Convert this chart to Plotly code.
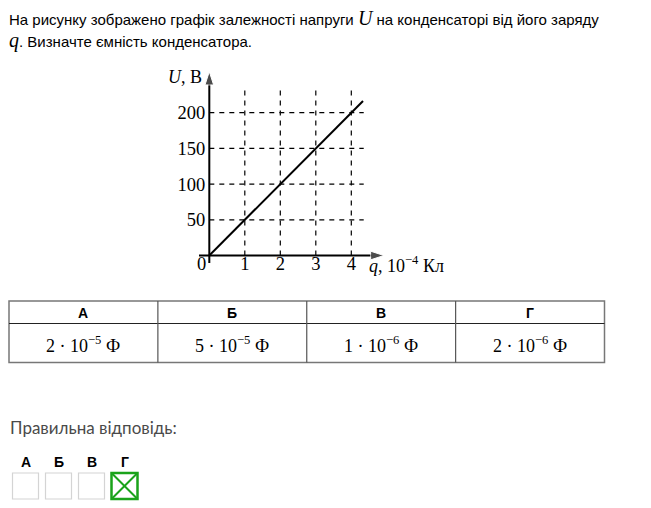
import plotly.graph_objects as go

# page body has an 8px margin, so the figure is drawn 8px in from the window edge
OFF = 8
W, H = 651 - OFF, 508 - OFF

# ---- data ----
q_line = [0, 4.33]          # charge, 10^-4 C
U_line = [0, 216.5]         # voltage, V
q_ticks = [1, 2, 3, 4]
U_ticks = [50, 100, 150, 200]
options = ["А", "Б", "В", "Г"]
answers = ["2 · 10<sup>−5</sup> Ф", "5 · 10<sup>−5</sup> Ф",
           "1 · 10<sup>−6</sup> Ф", "2 · 10<sup>−6</sup> Ф"]
correct = "Г"

def X(px):
    return (px - OFF) / W

def Y(py):
    return 1 - (py - OFF) / H

SERIF = "Liberation Serif, Times New Roman, serif"
SANS = "Liberation Sans, Arial, sans-serif"

# chart geometry (pixels)
x0_px, x_scale = 209.3, 35.5
y0_px, y_scale = 255.5, 0.714
x_rng, y_rng = [-0.35, 5.0], [-12, 262]
grid_q_end, grid_U_end = 4.35, 233
x_axis_span = [-0.29, 4.92]
y_axis_span = [-10.5, 257.5]

fig = go.Figure()

# dashed grid
gx, gy = [], []
for q in q_ticks:
    gx += [q, q, None]
    gy += [0, grid_U_end, None]
for u in U_ticks:
    gx += [0, grid_q_end, None]
    gy += [u, u, None]
fig.add_trace(go.Scatter(x=gx, y=gy, mode="lines",
                         line=dict(color="black", width=1.2, dash="5px,5px"),
                         showlegend=False, hoverinfo="skip"))

# axes with arrowheads
fig.add_trace(go.Scatter(
    x=x_axis_span, y=[0, 0], mode="lines+markers",
    line=dict(color="black", width=2),
    marker=dict(symbol=["circle", "arrow"], size=[0, 14], angleref="previous", color="black"),
    showlegend=False, hoverinfo="skip"))
fig.add_trace(go.Scatter(
    x=[0, 0], y=y_axis_span, mode="lines+markers",
    line=dict(color="black", width=2),
    marker=dict(symbol=["circle", "arrow"], size=[0, 14], angleref="previous", color="black"),
    showlegend=False, hoverinfo="skip"))

# U(q)
fig.add_trace(go.Scatter(
    x=q_line, y=U_line, mode="lines",
    line=dict(color="black", width=2),
    showlegend=False, hoverinfo="skip"))

fig.update_layout(
    width=W, height=H,
    margin=dict(l=0, r=0, t=0, b=0),
    paper_bgcolor="white", plot_bgcolor="white",
    showlegend=False,
    xaxis=dict(
        domain=[X(x0_px + x_rng[0] * x_scale), X(x0_px + x_rng[1] * x_scale)],
        range=x_rng, tickvals=q_ticks, ticktext=[str(v) for v in q_ticks],
        anchor="free", position=Y(y0_px),
        showgrid=False, zeroline=False, showline=False, ticks="",
        tickfont=dict(family=SERIF, size=18.5, color="black"),
        ticklabelstandoff=-5, fixedrange=True),
    yaxis=dict(
        domain=[Y(y0_px - y_rng[0] * y_scale), Y(y0_px - y_rng[1] * y_scale)],
        range=y_rng, tickvals=U_ticks, ticktext=[str(v) for v in U_ticks],
        anchor="free", position=X(x0_px),
        showgrid=False, zeroline=False, showline=False, ticks="",
        tickfont=dict(family=SERIF, size=18.5, color="black"),
        ticklabelstandoff=4, fixedrange=True),
)

ann = []
# origin label
ann.append(dict(x=0, y=0, xref="x", yref="y", text="0", showarrow=False,
                xanchor="right", yanchor="top", xshift=-1, yshift=4,
                font=dict(family=SERIF, size=18.5, color="black")))
# axis titles
ann.append(dict(x=X(204), y=Y(77), xref="paper", yref="paper",
                text="<i>U</i>, В", showarrow=False, xanchor="right", yanchor="middle",
                font=dict(family=SERIF, size=18, color="black")))
ann.append(dict(x=X(367), y=Y(264), xref="paper", yref="paper",
                text="<i>q</i>, 10<sup>−4</sup> Кл", showarrow=False, xanchor="left", yanchor="middle",
                font=dict(family=SERIF, size=18, color="black")))

# question text
ann.append(dict(x=X(7), y=Y(18), xref="paper", yref="paper", xanchor="left", yanchor="middle",
                text="На рисунку зображено графік залежності напруги "
                     "<span style='font-family:Liberation Serif;font-size:20px'><i>U</i></span>"
                     " на конденсаторі від його заряду",
                showarrow=False, font=dict(family=SANS, size=15, color="black")))
ann.append(dict(x=X(7), y=Y(40), xref="paper", yref="paper", xanchor="left", yanchor="middle",
                text="<span style='font-family:Liberation Serif;font-size:20px'><i>q</i></span>"
                     ". Визначте ємність конденсатора.",
                showarrow=False, font=dict(family=SANS, size=15, color="black")))

shapes = []
# table
t_left, t_right, t_top, t_mid, t_bot = 9, 604.5, 301, 323.5, 362.5
n = len(options)
cw = (t_right - t_left) / n
shapes.append(dict(type="rect", xref="paper", yref="paper",
                   x0=X(t_left), x1=X(t_right), y0=Y(t_bot), y1=Y(t_top),
                   line=dict(color="#777", width=1.5)))
shapes.append(dict(type="line", xref="paper", yref="paper",
                   x0=X(t_left), x1=X(t_right), y0=Y(t_mid), y1=Y(t_mid),
                   line=dict(color="#222", width=1.2)))
for i in range(1, n):
    xx = t_left + i * cw
    shapes.append(dict(type="line", xref="paper", yref="paper",
                       x0=X(xx), x1=X(xx), y0=Y(t_bot), y1=Y(t_top),
                       line=dict(color="#555", width=1.2)))
for i, (o, a) in enumerate(zip(options, answers)):
    cx = t_left + (i + 0.5) * cw
    ann.append(dict(x=X(cx), y=Y((t_top + t_mid) / 2 + 0.5), xref="paper", yref="paper",
                    text="<b>" + o + "</b>", showarrow=False, xanchor="center", yanchor="middle",
                    font=dict(family=SANS, size=14, color="black")))
    ann.append(dict(x=X(cx), y=Y((t_mid + t_bot) / 2 + 1), xref="paper", yref="paper",
                    text=a, showarrow=False, xanchor="center", yanchor="middle",
                    font=dict(family=SERIF, size=18, color="black")))

# answer section
ann.append(dict(x=X(8), y=Y(427), xref="paper", yref="paper", xanchor="left", yanchor="middle",
                text="Правильна відповідь:", showarrow=False,
                font=dict(family="Lato, sans-serif", size=17, color="#4a4a4a")))
bx0, bstep, bsize, btop = 12.5, 33, 26, 473
for i, o in enumerate(options):
    l = bx0 + i * bstep
    ann.append(dict(x=X(l + bsize / 2), y=Y(462), xref="paper", yref="paper",
                    text="<b>" + o + "</b>", showarrow=False, xanchor="center", yanchor="middle",
                    font=dict(family=SANS, size=14, color="black")))
    if o == correct:
        col, wd = "#1aa31a", 2.5
    else:
        col, wd = "#d4d4d4", 1.2
    shapes.append(dict(type="rect", xref="paper", yref="paper",
                       x0=X(l), x1=X(l + bsize), y0=Y(btop + bsize), y1=Y(btop),
                       line=dict(color=col, width=wd)))
    if o == correct:
        shapes.append(dict(type="line", xref="paper", yref="paper",
                           x0=X(l), x1=X(l + bsize), y0=Y(btop + bsize), y1=Y(btop),
                           line=dict(color=col, width=2)))
        shapes.append(dict(type="line", xref="paper", yref="paper",
                           x0=X(l), x1=X(l + bsize), y0=Y(btop), y1=Y(btop + bsize),
                           line=dict(color=col, width=2)))

fig.update_layout(annotations=ann, shapes=shapes)
fig.write_html("out.html", config={"displayModeBar": False})
